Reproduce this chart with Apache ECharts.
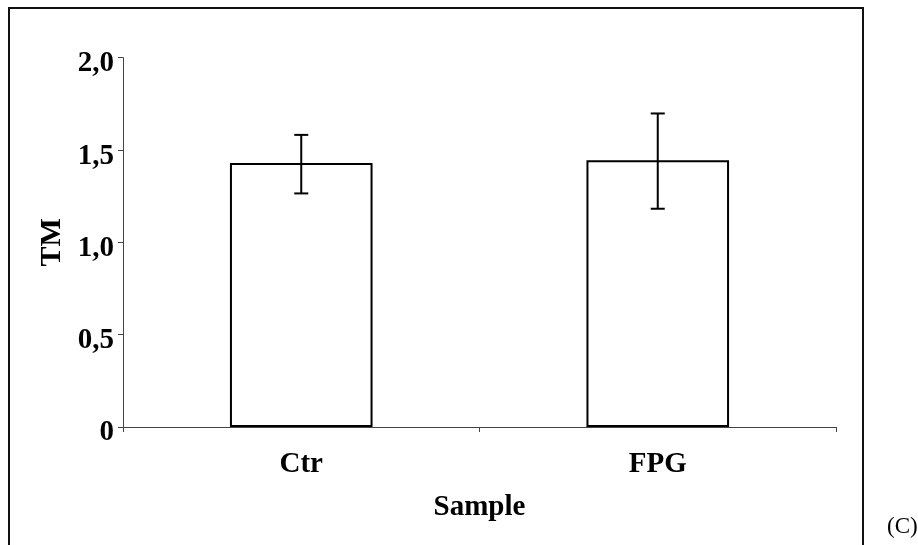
<!DOCTYPE html>
<html>
<head>
<meta charset="utf-8">
<script src="https://cdn.jsdelivr.net/npm/echarts@6/dist/echarts.min.js"></script>
<style>html,body{margin:0;padding:0;background:#fff;}#c{width:918px;height:545px;}</style>
</head>
<body>
<div id="c"></div>
<script>
var categories = ['Ctr', 'FPG'];
var meanValues = [1.43, 1.445];
var errLow = [1.265, 1.182];
var errHigh = [1.582, 1.698];
var yTickLabels = ['0', '0,5', '1,0', '1,5', '2,0'];
var xAxisTitle = 'Sample';
var yAxisTitle = 'TM';
var panelLabel = '(C)';

var font = '"Liberation Serif", "Times New Roman", serif';
var chart = echarts.init(document.getElementById('c'));
var errData = categories.map(function (c, i) { return [i, errLow[i], errHigh[i]]; });

chart.setOption({
  animation: false,
  backgroundColor: '#fff',
  grid: { left: 123, right: 82, top: 57.7, bottom: 118 },
  graphic: [
    { type: 'rect', shape: { x: 9, y: 8, width: 854, height: 580 },
      style: { fill: 'none', stroke: '#111', lineWidth: 2 }, silent: true },
    { type: 'text', left: 887, top: 515,
      style: { text: panelLabel, fontFamily: font, fontSize: 23, fill: '#000' } }
  ],
  xAxis: {
    type: 'category',
    data: categories,
    boundaryGap: true,
    name: xAxisTitle,
    nameLocation: 'middle',
    nameGap: 66,
    nameTextStyle: { fontFamily: font, fontSize: 29, fontWeight: 'bold', color: '#000' },
    axisLine: { lineStyle: { color: '#444', width: 1 } },
    axisTick: { show: true, length: 5, alignWithLabel: false, lineStyle: { color: '#444' } },
    axisLabel: { margin: 23, fontFamily: font, fontSize: 29, fontWeight: 'bold', color: '#000' },
    splitLine: { show: false }
  },
  yAxis: {
    type: 'value',
    min: 0, max: 2, interval: 0.5,
    name: yAxisTitle,
    nameLocation: 'middle',
    nameGap: 52,
    nameTextStyle: { fontFamily: font, fontSize: 30, fontWeight: 'bold', color: '#000' },
    axisLine: { show: true, lineStyle: { color: '#444', width: 1 } },
    axisTick: { show: true, length: 5, lineStyle: { color: '#444' } },
    axisLabel: { margin: 9, fontFamily: font, fontSize: 29, fontWeight: 'bold', color: '#000',
      verticalAlign: 'top', lineHeight: 12,
      formatter: function (v) { return yTickLabels[Math.round(v / 0.5)]; } },
    splitLine: { show: false }
  },
  series: [
    { type: 'bar', data: meanValues, barWidth: '40%',
      itemStyle: { color: '#fff', borderColor: '#000', borderWidth: 2 } },
    { type: 'custom', data: errData,
      renderItem: function (params, api) {
        var x = api.value(0);
        var lo = api.coord([x, api.value(1)]);
        var hi = api.coord([x, api.value(2)]);
        var hw = 7;
        var st = { stroke: '#000', lineWidth: 2 };
        return { type: 'group', children: [
          { type: 'line', shape: { x1: lo[0], y1: lo[1], x2: hi[0], y2: hi[1] }, style: st },
          { type: 'line', shape: { x1: lo[0] - hw, y1: lo[1], x2: lo[0] + hw, y2: lo[1] }, style: st },
          { type: 'line', shape: { x1: hi[0] - hw, y1: hi[1], x2: hi[0] + hw, y2: hi[1] }, style: st }
        ] };
      }, z: 5 }
  ]
});
</script>
</body>
</html>
